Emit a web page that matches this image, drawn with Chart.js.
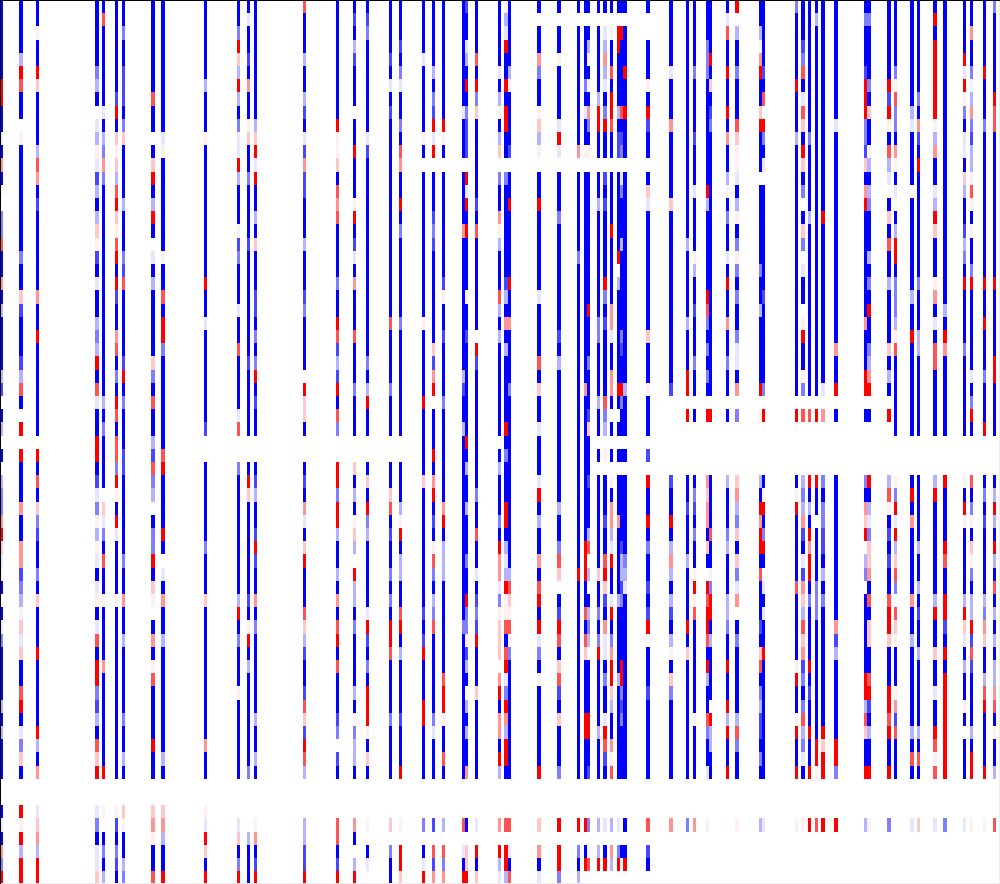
<!DOCTYPE html>
<html><head><meta charset="utf-8">
<script src="https://cdn.jsdelivr.net/npm/chart.js@4/dist/chart.umd.min.js"></script>
<style>html,body{margin:0;padding:0;background:#fff;overflow:hidden;width:1000px;height:884px}
#wrap{position:absolute;left:-1px;top:0;width:1001px;height:884px}</style>
</head><body><div id="wrap"><canvas id="c" width="1001" height="884"></canvas></div>
<script>
const columnCount = 303;
const rowCount = 67;
// colour levels of the heat map
const levelCodes = ['B','A','M','L','P','.','p','l','m','n','R'];
const levelValues = [-1,-0.72,-0.5,-0.3,-0.1,0,0.06,0.22,0.42,0.68,1];
// non-empty columns
const columnIndex = [0,6,11,29,31,35,37,46,49,62,72,75,77,92,102,107,111,118,121,128,131,134,140,141,144,151,153,154,163,169,175,177,178,181,183,185,187,188,189,196,203,208,210,214,215,220,223,230,231,241,243,245,247,249,253,262,263,269,271,276,278,283,286,292,294,298,301];
// per column: run-length coded rows 0-16 | 17-33 | 34-50 | 51-66
const columnCells = [
"6B2R2BPBmBp.M|MnBBmBL4BLA.BL.|B.LMMmRlPpB.BPMBB|BBLBLBBB..BPBmMR",
"4BLRn2B.p6B|BBMBBlA3BALnB.R.|RBBBmBBmmAMLplPlB|BnRBPMlB..RpRLRR",
"BBpBBRl4BLnmBAB|5BmBBR7B.|RBnBlMABBMBlBBBRB|4BRLBm..PlmLRR",
"5BMLB.PLpPALBL|lpABPBBLMLRBnPBBR|RBAPMpLpPBPpBPnBR|RMALBnlR..PMBPPl",
"Bn6BPBLMmM3B|13BLBMB|BBB.lPMBnBBp4Bm|7BR..p.BMBL",
"7BARBlplLnRl|pnRBRABBmnBMBRnBn|nMRpBRP4Bp5B|8B..pABMAB",
"BBMBBAAABMl4BLB|BBMAn5BARBMBBB|AA6BMBBmBBLBB|BBBMBBLB..lpBBLM",
"7BnBB.BlRBLR|B.PBL5BlMBnBBL|AnML.BMMRBlp.BmBp|nBBBBRBB..lmpBBn",
"10BPp5B|BBpBBnBRRM7B|nRBBBBRB.PBmBBLBB|6BLB..lmLBBR",
"6BL3Bp6B|4BRBBP7BA.|.6BM3Bl5B|5BmBB..pPRlBR",
"BBMRlLRLBMPPRL3B|pAM3BPBBn4BPn.|.M9BLRBMBB|BpBBBBBB...PlBMR",
"BPBBABmBBplBBM3B|BA8BA5B.|.BRl7BABpRBL|7BM....LBBB",
"9BLlRPRBBL|BlBBBAABMBMRBABB.|.BALBBARABBmBMBBB|BBBLBBLB...pmBAR",
"nBBBLBBLABPAmAABB|BLBBBAMBBBB.RllB.|.BABmPBlRBBBnlLAB|BAnlARnL...LLAAR",
"9BRpplBnmn|4BMBBRnALARBnM.|.RRMRRLBBLBmBnRBn|BBBAM.AB...nnBAR",
"BABLA3B.BBR3BpR|BAPBm3BnBBBM3B.|.lBLBplL.RLLBMBBB|BLBpMLLB...mB.LR",
"BAM7BPA5B|10BMBLRBB.|.BlBRML5BPRABM|BRRRpBlB...p.BP.",
"4BABPBA8B|7Bn4BM3B.|.BBlnBABBMBMBRRnB|BBBM4B...l.MBB",
"BBBABMPBBMBnmBBRB|M6BM8B.|.BBBLpRBLLBBnRBLB|BBBABBBR...p.RRl",
"4BP5BpB.4B|7Bp5BR3B|BBl9BABARB|BBRR4B...M.BPR",
"5BLBMARPR.BBBA|MA7BlAmR.BBB|RBmRBABpnMBLMn3B|BBBMP3B...A.nAm",
"9BRpB.4B|BBBBApBBA4BM3B|4BmRBLLL7B|nRRpBBnB...L.nMm",
"8BP3B.4B|m10BLABBLB|13BM3B|8B...n.PBR",
"ABBPLBRBMAAA.RPRB|R4BpBBA7BR|BLBBLBBBMBBRMMpAL|B.LBLBBm...B.llR",
"BBBBnBRMl6BAB|n7B.RA6B|BBBMBBnBBPBAMARBB|BlBBBBBB...P.RBl",
"BBBBBPBLpBLl.MBBm|pLBBBnLBL7B.|BLBBBMBRmmPMplll.|mRBmmBRL...m.RLP",
"pLPRBBRBRRBB.MBBB|BBBBALBmBLBBBBBRB|MBBBRRBLPLRppnBnR|PMRmLRRB...n.RRL",
"5BLp4BA.BBRB|4BRBBm4BM4B|9BLnlpnpMB|8B...n.PBn",
"B.BBmMBBplLp.BBRB|5BP4BnBlBBPB|BBPRBLBBmBnRBRPMB|pBBBBBBR...l.mBP",
"B.BBp4BPRP.BBBM|8BABL6B|4BLBBMnl.BARnBl|nABl3BM...R.RRM",
"B.9Bm.4B|BBM14B|9BR7B|8B...R.MBL",
"B.4BMBPBBp.4B|12Bm4B|7BRRRBBnBnlB|BBBRRBBB...R.BR.",
"B.BLpBpBmMBp.4B|6BR3BM3BAlB|BBA3BLn.L.BLML.B|BBBRRBBA...M.pn.",
"B.5BLRRBB.BBLB|7BMM4BLBB.|B.7BlBBMBMRB|BBBBLBBB...L.LR.",
"B.PLmLPBMRBB.ABAB|BBBBRMBA5BnML.|p.BBBABBnRlABmPPB|MBBPRnAB...P.BR.",
"B.pBBnBRRnBB.BBBB|R5BmmPBBmmB.B.|B.pBmmLPRBBPRBMmR|RlLBBmpn...L.mL.",
"B.RRBBBBLBAA.BBBB|BBR.L7BRB.B.|B.BBBmBBBBBLBBBBB|LBBBBBBB...P.MR.",
"B.RBBBBBnBAM.PMBB|BL6BMABBRMBB.|B.5BALLAM4BR|RMAM4B.....B..",
"B.BBBRBBRBBB.BBBB|12BL3B.|B.6BMLP6B|8B...B.BR.",
"B..BBBpBRABB.BlPB|8Bl3Bp3B.|A.RBBRBMBBABAR.BB|BA6B...n.AB.",
"5BP3Bm5BlB|12BA....|..ABBRBLmLBLABLpB|lM6B...m....",
"17B|BL5BLBBBRR.R..|..BBABBBLBBBBRBlB|8B...M....",
"5BM4BA3BPBB|BBpLBBABBBMBB.B..|..BMABMBBpRpnBBBB|BBBpBBBB...m....",
"BBBMMM8BRLB|5BRnMBMBMB.R..|..mlmmBlB.RnRRnBR|LBBnMBBP...p....",
"BBBBRBlBAM7B|13B.R..|..BBBBnBBpMRRBLBB|BB.RLLBB........",
"BPnBBRBBRBmBBLpBM|BBPBRBBmBBMBB.B..|..LBBBMLBBBLLMBBR|BBRLRBBR........",
"R.LBBMBBBnlppPBLp|BMpMBMBBMPPBm.M..|..lmLMlBlMPm.BMBB|BBBLnMBB...p....",
"BBLpmRBBlR3B.3B|BBBMBBL5BR.p..|..LBRmRRBnBBBABln|BMLAABMB...L....",
"5BABn.RMBP.BBB|5BA6BM.R..|..BpRBMRB.PBPBBRB|8B...P....",
"M5BR3BL6B|13B.R..|..BpR5Bn5Bp|RBBpRBBR...p....",
"BBBAMnBPnlBRlBM.B|lM.PBB.pRBBpM.n..|..LMLmABPAmlLnlmA|MBMnLMPB...p....",
"10BM5BL|13B.n..|..RBLBRmRRBMBBBBR|BABBRBBR...R....",
"BL15B|13B.R..|..RBB.4BMMM4B|5BRRp...n....",
"16BR|12BP.m..|..MBMMAABLBM5B|4BRlRR...R....",
"9BP7B|9BmBBR.B..|..11BmALB|5BRRM...R....",
"BMBBBARRRMMAlBmRB|7Bm3BRR.B..|..MBmlR.LM.6B|RRLnlBBR...L....",
"BMBBBBMBlBBpLBLMB|BBLBMBRBBMLmR.B..|..RBLPMllmBnBllBB|nRABLBBR...p....",
"6BRARpBnLP.Bl|BnBBL4BlBLB.R..|..LnpBABABBnRRlBB|BRRnRBBR...M....",
"5BMpnMMBmpBP.B|LRRBMMMLpn6B.|..pMRPRLlnM.nlpBB|BpmAnBBB........",
"8BLP4B.BB|5BLBBR7B.|..BRBm5BmBBLBB|BBBBLBnB...P....",
"7BMBmABR4B|4BM3BLL6B.|..5BLBBLBABBLB|BBBBLBnB...l....",
"BRB6RpLmBBPLR|l3BpmBPBnn5B.|..LR7BLRBBlB|BPBBRnpn...P....",
"17B|6BLBRm6B.|..R4BRnBBRRABRB|8R...M....",
"4BRPRpMBPPBlLBB|ALMBR4BM6B.|..pBRp5BLRlPBL|BBpB.BBB...P....",
"BBmBBMpLmMALLpnpB|pBBMR6BPBMRB.|..nBMpBlpMBLLRAnA|4BLBRR...p....",
"5BR3BM7B|4BRBBR3BM3BR.|..BMBA5BLMmlBB|LnR4BR...p....",
"M6BRnn7B|4BR5BRR4B.|..BLRLBRLBnBLBLBL|LmnBpBBL...n...."
];

function expand(s){
  return s.replace(/\|/g,'').replace(/(\d+)(.)/g,(m,n,c)=>c.repeat(+n));
}
function colour(v){
  const t=Math.round(255*(1-Math.abs(v)));
  return v<0?`rgb(${t},${t},255)`:`rgb(255,${t},${t})`;
}
const labels=Array.from({length:columnCount},(_,i)=>String(i));
const decoded=columnCells.map(expand);
decoded.forEach((s,i)=>{if(s.length!==rowCount)console.error('column',columnIndex[i],'has',s.length,'rows');});
const datasets=[];
for(let r=0;r<rowCount;r++){
  const data=[];
  columnIndex.forEach((c,i)=>{
    const code=decoded[i][r];
    const v=levelValues[levelCodes.indexOf(code)];
    if(v) data.push({x:String(c),y:[r,r+1],v});
  });
  datasets.push({data,backgroundColor:ctx=>colour(ctx.raw?ctx.raw.v:0),borderWidth:0,inflateAmount:0,
    grouped:false,barPercentage:1,categoryPercentage:1});
}
// cells of the heat map sit on whole pixels
const snapCells={id:'snapCells',afterDatasetsUpdate(chart){
  const band=chart.scales.x.width/columnCount;
  chart.getSortedVisibleDatasetMetas().forEach(meta=>{
    meta.data.forEach(el=>{
      const L=Math.ceil(el.x-band/2-1e-6),R=Math.ceil(el.x+band/2-1e-6);
      el.x=(L+R)/2; el.width=R-L;
      el.y=Math.round(el.y); el.base=Math.round(el.base); el.height=el.base-el.y;
    });
  });
}};
const frame={id:'frame',afterDraw(chart){
  const c=chart.ctx;c.save();
  c.fillStyle='#eeeeee';c.fillRect(1000,0,1,884);c.fillRect(0,883,1001,1);
  c.fillStyle='#000';c.fillRect(1,0,1,884);c.fillRect(1,0,1000,1);
  c.restore();
}};
new Chart(document.getElementById('c'),{
  type:'bar',
  data:{labels,datasets},
  plugins:[snapCells,frame],
  options:{
    responsive:false,animation:false,events:[],devicePixelRatio:1,
    layout:{padding:{left:0,right:1,top:0,bottom:0}},
    plugins:{legend:{display:false},tooltip:{enabled:false}},
    scales:{
      x:{type:'category',offset:true,display:false,grid:{display:false}},
      y:{type:'linear',reverse:true,min:0,max:66.97,display:false,grid:{display:false}}
    }
  }
});
</script></body></html>
